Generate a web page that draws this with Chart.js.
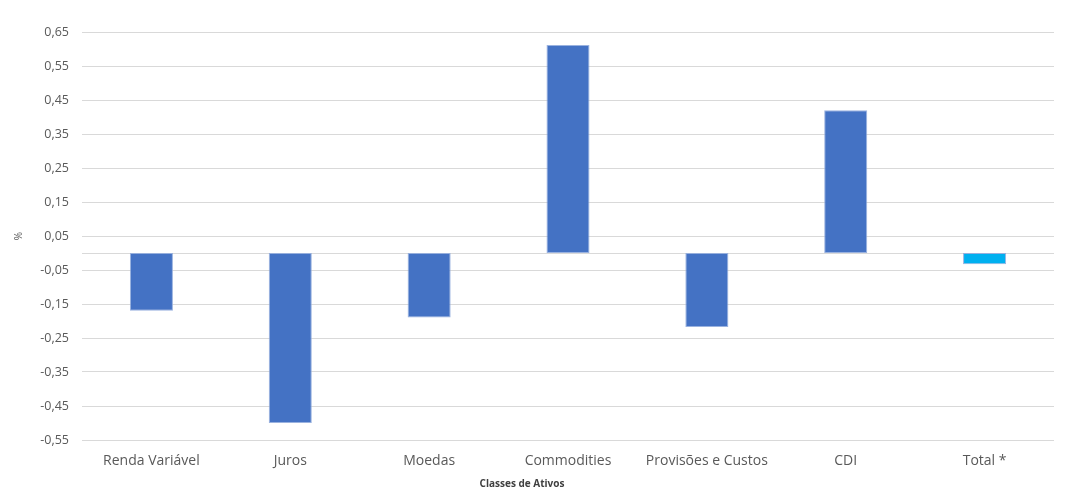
<!DOCTYPE html>
<html>
<head>
<meta charset="utf-8">
<script src="https://cdn.jsdelivr.net/npm/chart.js@4"></script>
<style>
  html, body { margin: 0; padding: 0; background: #fff; }
  #wrap { width: 1067px; height: 489px; }
</style>
</head>
<body>
<div id="wrap"><canvas id="attribChart"></canvas></div>
<script>
const categories = ['Renda Variável', 'Juros', 'Moedas', 'Commodities', 'Provisões e Custos', 'CDI', 'Total *'];
const values = [-0.17, -0.50, -0.19, 0.612, -0.218, 0.42, -0.033];
const barColors = ['#4472C4', '#4472C4', '#4472C4', '#4472C4', '#4472C4', '#4472C4', '#00B0F0'];
const yTicks = [-0.55, -0.45, -0.35, -0.25, -0.15, -0.05, 0.05, 0.15, 0.25, 0.35, 0.45, 0.55, 0.65];

// linha do zero e título do eixo x (fora do centro, como no original)
const extras = {
    id: 'extras',
    beforeDatasetsDraw(chart) {
        const c = chart.ctx, y = chart.scales.y.getPixelForValue(0), a = chart.chartArea;
        c.save();
        c.strokeStyle = '#D9D9D9';
        c.lineWidth = 1;
        c.beginPath();
        c.moveTo(a.left, Math.round(y) + 0.5);
        c.lineTo(a.right, Math.round(y) + 0.5);
        c.stroke();
        c.restore();
    },
    afterDraw(chart) {
        const c = chart.ctx;
        c.save();
        c.font = 'bold 10px "Open Sans"';
        c.fillStyle = '#404040';
        c.textAlign = 'center';
        c.textBaseline = 'middle';
        c.fillText('Classes de Ativos', 522, 484);
        c.restore();
    }
};

const ctx = document.getElementById('attribChart').getContext('2d');
const attribChart = new Chart(ctx, {
    type: 'bar',
    data: {
        labels: categories,
        datasets: [{
            label: '%',
            data: values,
            backgroundColor: barColors,
            borderColor: 'rgba(143, 170, 220, 0.9)',
            borderWidth: 1,
            borderSkipped: false,
            barPercentage: 0.31,
            categoryPercentage: 1
        }]
    },
    options: {
        responsive: true,
        maintainAspectRatio: false,
        animation: false,
        layout: { padding: { top: 32, right: 13, left: 13, bottom: 0 } },
        plugins: {
            legend: { display: false },
            tooltip: { enabled: false }
        },
        scales: {
            x: {
                grid: { display: false },
                border: { display: false },
                ticks: {
                    color: '#595959',
                    font: { family: 'Open Sans', size: 14 },
                    padding: 5,
                    maxRotation: 0
                },
                afterFit(scale) { scale.height = 49; }
            },
            y: {
                min: -0.55,
                max: 0.65,
                afterBuildTicks(scale) { scale.ticks = yTicks.map(v => ({ value: v })); },
                grid: { color: '#D9D9D9', drawTicks: false },
                border: { display: false },
                ticks: {
                    color: '#595959',
                    font: { family: 'Open Sans', size: 12.5 },
                    padding: 13,
                    callback: v => v.toFixed(2).replace('.', ',')
                },
                title: {
                    display: true,
                    text: '%',
                    color: '#595959',
                    font: { family: 'Open Sans', size: 10 },
                    padding: 0
                },
                afterFit(scale) { scale.width = 69; }
            }
        }
    },
    plugins: [extras]
});
</script>
</body>
</html>
